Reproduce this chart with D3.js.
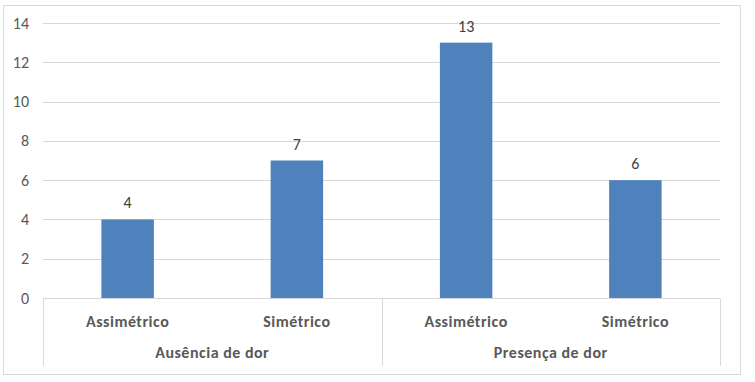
<html>
<meta charset="utf-8" />
<head>
<title>Dor por simetria</title>
<script src="https://cdn.jsdelivr.net/npm/d3@7/dist/d3.min.js"></script>
<style>
body { margin: 0; background: #fff; }
text { font-family: Calibri, Carlito, "Open Sans", "Liberation Sans", sans-serif; }
</style>
</head>
<body>
<svg id="chart" width="755" height="382"></svg>
<script>
// dados do gráfico
const groups = ['Ausência de dor', 'Presença de dor'];
const categories = ['Assimétrico', 'Simétrico'];
const values = [4, 7, 13, 6];
const yTicks = [0, 2, 4, 6, 8, 10, 12, 14];

const svg = d3.select('#chart');

// moldura do gráfico
svg.append('rect')
	.attr('x', 3.5).attr('y', 5.5)
	.attr('width', 737).attr('height', 369)
	.attr('fill', 'white').attr('stroke', '#d9d9d9');

const plotLeft = 43, plotRight = 720, plotTop = 23, plotBottom = 298;

const keys = [];
groups.forEach(g => categories.forEach(c => keys.push(g + '|' + c)));

const xScale = d3.scaleBand().domain(keys).range([plotLeft, plotRight]).paddingInner(0.69).paddingOuter(0.345);
const yScale = d3.scaleLinear().domain([0, 14]).range([plotBottom, plotTop]);

// linhas de grade
svg.append('g').selectAll('line')
	.data(yTicks.filter(d => d > 0))
	.enter().append('line')
	.attr('x1', plotLeft).attr('x2', plotRight)
	.attr('y1', d => Math.round(yScale(d)) + 0.5)
	.attr('y2', d => Math.round(yScale(d)) + 0.5)
	.attr('stroke', '#d9d9d9');

// eixo y (só rótulos)
const yAxis = d3.axisLeft(yScale).tickValues(yTicks).tickSize(0).tickPadding(14);
const yG = svg.append('g').attr('transform', `translate(${plotLeft},0)`).call(yAxis);
yG.select('.domain').remove();
yG.selectAll('text').attr('fill', '#595959').style('font-size', '16px');

// barras
svg.append('g').selectAll('rect')
	.data(values)
	.enter().append('rect')
	.attr('x', (d, i) => xScale(keys[i]))
	.attr('width', xScale.bandwidth())
	.attr('y', d => yScale(d))
	.attr('height', d => yScale(0) - yScale(d))
	.attr('fill', '#4f81bd');

// rótulos de dados
svg.append('g').selectAll('text')
	.data(values)
	.enter().append('text')
	.attr('x', (d, i) => xScale(keys[i]) + xScale.bandwidth() / 2)
	.attr('y', d => yScale(d) - 11)
	.attr('text-anchor', 'middle')
	.attr('fill', '#404040')
	.style('font-size', '16px')
	.text(d => d);

// eixo de categorias em dois níveis
const axisG = svg.append('g');
const axisY = Math.round(yScale(0)) + 0.5;
axisG.append('line')
	.attr('x1', plotLeft).attr('x2', plotRight)
	.attr('y1', axisY).attr('y2', axisY)
	.attr('stroke', '#d9d9d9');

const groupWidth = (plotRight - plotLeft) / groups.length;
d3.range(groups.length + 1).forEach(i => {
	const x = Math.round(plotLeft + i * groupWidth) + 0.5;
	axisG.append('line')
		.attr('x1', x).attr('x2', x)
		.attr('y1', axisY).attr('y2', 366)
		.attr('stroke', '#d9d9d9');
});

axisG.selectAll('text.cat')
	.data(keys)
	.enter().append('text')
	.attr('class', 'cat')
	.attr('x', d => xScale(d) + xScale.bandwidth() / 2)
	.attr('y', 327)
	.attr('text-anchor', 'middle')
	.attr('fill', '#595959')
	.style('font-size', '16px')
	.style('font-weight', 'bold')
	.style('letter-spacing', '0.5px')
	.text(d => d.split('|')[1]);

axisG.selectAll('text.grp')
	.data(groups)
	.enter().append('text')
	.attr('class', 'grp')
	.attr('x', (d, i) => plotLeft + (i + 0.5) * groupWidth)
	.attr('y', 358)
	.attr('text-anchor', 'middle')
	.attr('fill', '#595959')
	.style('font-size', '16px')
	.style('font-weight', 'bold')
	.style('letter-spacing', '0.5px')
	.text(d => d);
</script>
</body>
</html>
